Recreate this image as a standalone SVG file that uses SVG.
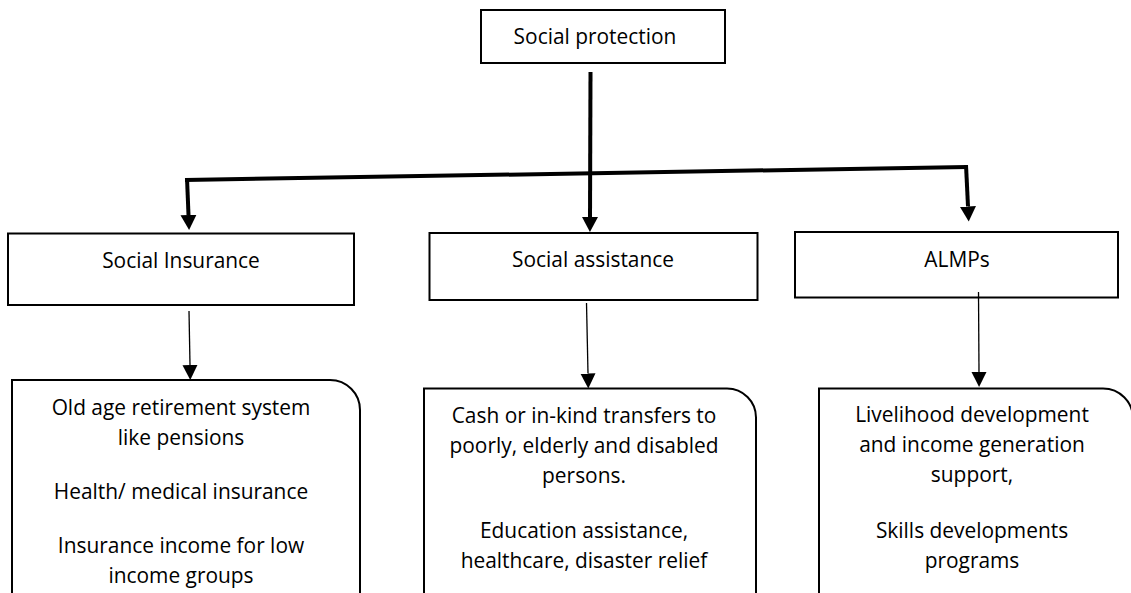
<svg xmlns="http://www.w3.org/2000/svg" width="1131" height="593" viewBox="0 0 1131 593">
<style>
  .box { fill: #fff; stroke: #000; stroke-width: 2; }
  .rbox { fill: #fff; stroke: #000; stroke-width: 2; }
  .t { font-family: "Open Sans", "Liberation Sans", sans-serif; font-size: 20.9px; fill: #000; text-anchor: middle; }
  .thick { stroke: #000; stroke-width: 4; fill: none; }
  .thin { stroke: #000; stroke-width: 1.3; fill: none; }
</style>
<defs>
  <marker id="ah" markerUnits="userSpaceOnUse" markerWidth="20" markerHeight="20" viewBox="0 -10 20 20" refX="0" refY="0" orient="auto">
    <path d="M0,-8 L15,0 L0,8 z" fill="#000"/>
  </marker>
  <marker id="ahs" markerUnits="userSpaceOnUse" markerWidth="20" markerHeight="20" viewBox="0 -10 20 20" refX="0" refY="0" orient="auto">
    <path d="M0,-7.5 L15,0 L0,7.5 z" fill="#000"/>
  </marker>
</defs>
<rect width="1131" height="593" fill="#fff"/>

<g id="n-social-protection">
  <rect class="box" x="481" y="10" width="244" height="53"/>
  <text class="t" x="595" y="44">Social protection</text>
</g>
<g id="n-social-insurance">
  <rect class="box" x="8" y="233.5" width="346" height="71.5"/>
  <text class="t" x="181" y="268">Social Insurance</text>
</g>
<g id="n-social-assistance">
  <rect class="box" x="429.5" y="233" width="328" height="67"/>
  <text class="t" x="593" y="267">Social assistance</text>
</g>
<g id="n-almps">
  <rect class="box" x="795" y="232" width="323" height="65.5"/>
  <text class="t" x="957" y="267">ALMPs</text>
</g>

<g id="n-insurance-details">
  <path class="rbox" d="M12,600 V380 H330 A30,30 0 0 1 360,410 V600"/>
  <text class="t" x="181" y="415">Old age retirement system</text>
  <text class="t" x="181" y="445">like pensions</text>
  <text class="t" x="181" y="499">Health/ medical insurance</text>
  <text class="t" x="181" y="553">Insurance income for low</text>
  <text class="t" x="181" y="583">income groups</text>
</g>
<g id="n-assistance-details">
  <path class="rbox" d="M424,600 V388.5 H727 A29,29 0 0 1 756,417.5 V600"/>
  <text class="t" x="584" y="423">Cash or in-kind transfers to</text>
  <text class="t" x="584" y="453">poorly, elderly and disabled</text>
  <text class="t" x="584" y="483">persons.</text>
  <text class="t" x="584" y="538">Education assistance,</text>
  <text class="t" x="584" y="568">healthcare, disaster relief</text>
</g>
<g id="n-almps-details">
  <path class="rbox" d="M819,600 V388.5 H1103 A30,30 0 0 1 1133,418.5 V600"/>
  <text class="t" x="972" y="422">Livelihood development</text>
  <text class="t" x="972" y="452">and income generation</text>
  <text class="t" x="972" y="482">support,</text>
  <text class="t" x="972" y="538">Skills developments</text>
  <text class="t" x="972" y="568">programs</text>
</g>

<g id="connectors">
  <line class="thick" x1="590.5" y1="72" x2="590" y2="217" marker-end="url(#ah)"/>
  <line class="thick" x1="185" y1="180" x2="967" y2="167"/>
  <line class="thick" x1="187" y1="178" x2="188.5" y2="215" marker-end="url(#ah)"/>
  <line class="thick" x1="966" y1="165" x2="968" y2="206.5" marker-end="url(#ah)"/>
  <line class="thin" x1="189" y1="311" x2="190" y2="365" marker-end="url(#ahs)"/>
  <line class="thin" x1="586.5" y1="303" x2="588" y2="373.5" marker-end="url(#ahs)"/>
  <line class="thin" x1="978.5" y1="292" x2="979" y2="372" marker-end="url(#ahs)"/>
</g>
</svg>
